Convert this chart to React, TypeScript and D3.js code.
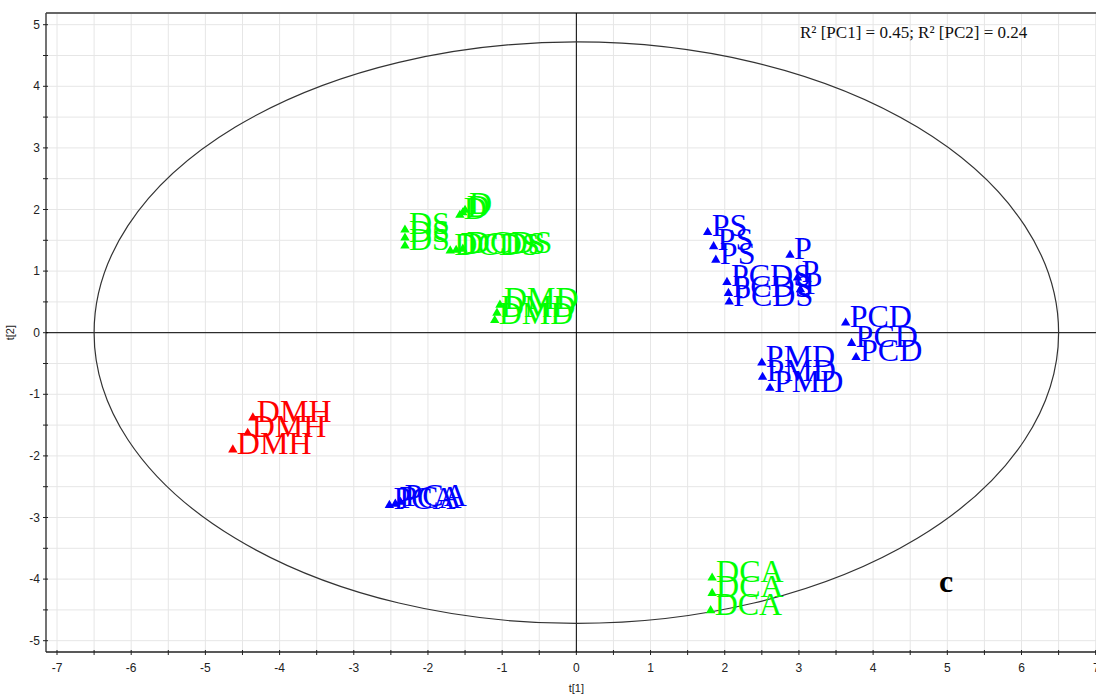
import React, { useEffect, useRef } from 'react';
import * as d3 from 'd3';

// score values: [t1, t2] per sample
const groupNames = ['D', 'DS', 'DCDS', 'DMD', 'DMH', 'DCA', 'P', 'PS', 'PCDS', 'PCD', 'PMD', 'PCA'];
const groupColors = ['#00ff00', '#00ff00', '#00ff00', '#00ff00', '#ff0000', '#00ff00', '#0000ff', '#0000ff', '#0000ff', '#0000ff', '#0000ff', '#0000ff'];

const scoresD = [[-1.57, 1.91], [-1.53, 1.95], [-1.5, 1.99]];
const scoresDS = [[-2.31, 1.67], [-2.31, 1.54], [-2.31, 1.41]];
const scoresDCDS = [[-1.7, 1.33], [-1.62, 1.34], [-1.53, 1.36]];
const scoresDMD = [[-1.1, 0.2], [-1.07, 0.32], [-1.03, 0.45]];
const scoresDMH = [[-4.36, -1.38], [-4.43, -1.63], [-4.63, -1.9]];
const scoresDCA = [[1.83, -3.98], [1.83, -4.23], [1.81, -4.51]];
const scoresP = [[2.88, 1.26], [2.98, 0.89], [3.02, 0.7]];
const scoresPS = [[1.77, 1.63], [1.85, 1.4], [1.88, 1.18]];
const scoresPCDS = [[2.03, 0.82], [2.05, 0.64], [2.06, 0.5]];
const scoresPCD = [[3.63, 0.16], [3.71, -0.17], [3.77, -0.4]];
const scoresPMD = [[2.5, -0.49], [2.51, -0.72], [2.61, -0.9]];
const scoresPCA = [[-2.52, -2.8], [-2.44, -2.78], [-2.37, -2.75]];

const allScores = [scoresD, scoresDS, scoresDCDS, scoresDMD, scoresDMH, scoresDCA, scoresP, scoresPS, scoresPCDS, scoresPCD, scoresPMD, scoresPCA];

// Hotelling T2 ellipse semi-axes
const ellipseT1 = 6.5;
const ellipseT2 = 4.72;

const xTicks = [-7, -6, -5, -4, -3, -2, -1, 0, 1, 2, 3, 4, 5, 6, 7];
const yTicks = [-5, -4, -3, -2, -1, 0, 1, 2, 3, 4, 5];
const r2Text = 'R\u00b2 [PC1] = 0.45; R\u00b2 [PC2] = 0.24';
const panelLetter = 'c';

export default function App() {
    const ref = useRef<SVGSVGElement>(null);

    useEffect(() => {
        const width = 1096, height = 695;
        const frame = { left: 46, top: 13, right: 1107, bottom: 652 };

        const x = d3.scaleLinear().domain([-7, 7]).range([57, 1095.7]);
        const y = d3.scaleLinear().domain([5, -5]).range([24.7, 640.7]);

        const svg = d3.select(ref.current);
        svg.selectAll('*').remove();
        svg.attr('width', width).attr('height', height);

        svg.append('rect').attr('width', width).attr('height', height).attr('fill', '#fff');

        // grid every 0.5
        const gridX = d3.range(-7, 7.01, 0.5);
        const gridY = d3.range(-5, 5.01, 0.5);
        const grid = svg.append('g').attr('stroke', '#e6e6e6').attr('stroke-width', 1);
        grid.selectAll('.gx').data(gridX).enter().append('line')
            .attr('x1', d => x(d)).attr('x2', d => x(d))
            .attr('y1', frame.top).attr('y2', frame.bottom);
        grid.selectAll('.gy').data(gridY).enter().append('line')
            .attr('x1', frame.left).attr('x2', frame.right)
            .attr('y1', d => y(d)).attr('y2', d => y(d));

        // frame
        svg.append('line').attr('x1', frame.left).attr('x2', frame.right)
            .attr('y1', frame.top).attr('y2', frame.top)
            .attr('stroke', '#666').attr('stroke-width', 2);
        svg.append('line').attr('x1', frame.left).attr('x2', frame.left)
            .attr('y1', frame.top).attr('y2', frame.bottom)
            .attr('stroke', '#444').attr('stroke-width', 1.5);
        svg.append('line').attr('x1', frame.left).attr('x2', frame.right)
            .attr('y1', frame.bottom).attr('y2', frame.bottom)
            .attr('stroke', '#222').attr('stroke-width', 1.5);

        // ticks (major + minor at 0.5)
        const ticks = svg.append('g').attr('stroke', '#222').attr('stroke-width', 1);
        ticks.selectAll('.tx').data(gridX).enter().append('line')
            .attr('x1', d => x(d)).attr('x2', d => x(d))
            .attr('y1', frame.bottom - 2).attr('y2', frame.bottom + 3);
        ticks.selectAll('.ty').data(gridY).enter().append('line')
            .attr('x1', frame.left - 3).attr('x2', frame.left + 2)
            .attr('y1', d => y(d)).attr('y2', d => y(d));

        const tickFont = '"Liberation Sans", Arial, sans-serif';
        svg.append('g').selectAll('text').data(xTicks).enter().append('text')
            .attr('x', d => x(d)).attr('y', frame.bottom + 20)
            .attr('text-anchor', d => d === 7 ? 'end' : 'middle')
            .attr('dx', d => d === 7 ? 4 : 0)
            .style('font', `12px ${tickFont}`).attr('fill', '#222')
            .text(d => String(d));
        svg.append('g').selectAll('text').data(yTicks).enter().append('text')
            .attr('x', frame.left - 6).attr('y', d => y(d) + 4)
            .attr('text-anchor', 'end')
            .style('font', `12px ${tickFont}`).attr('fill', '#222')
            .text(d => String(d));

        // axis titles
        svg.append('text').attr('x', x(0)).attr('y', 692)
            .attr('text-anchor', 'middle').style('font', `11px ${tickFont}`).attr('fill', '#222')
            .text('t[1]');
        svg.append('text')
            .attr('transform', `translate(14,${y(0)}) rotate(-90)`)
            .attr('text-anchor', 'middle').style('font', `11px ${tickFont}`).attr('fill', '#222')
            .text('t[2]');

        // zero lines
        svg.append('line').attr('x1', x(0)).attr('x2', x(0))
            .attr('y1', frame.top).attr('y2', frame.bottom).attr('stroke', '#000').attr('stroke-width', 1);
        svg.append('line').attr('x1', frame.left).attr('x2', frame.right)
            .attr('y1', y(0)).attr('y2', y(0)).attr('stroke', '#000').attr('stroke-width', 1);

        // ellipse
        svg.append('ellipse')
            .attr('cx', x(0)).attr('cy', y(0))
            .attr('rx', x(ellipseT1) - x(0)).attr('ry', y(0) - y(ellipseT2))
            .attr('fill', 'none').attr('stroke', '#333').attr('stroke-width', 1.2);

        // points + labels
        const tri = d3.symbol().type(d3.symbolTriangle).size(38);
        const labelFont = '"Liberation Serif", "Times New Roman", serif';
        allScores.forEach((pts, gi) => {
            const g = svg.append('g').attr('fill', groupColors[gi]);
            g.selectAll('path').data(pts).enter().append('path')
                .attr('d', tri)
                .attr('transform', d => `translate(${x(d[0])},${y(d[1])})`);
            g.selectAll('text').data(pts).enter().append('text')
                .attr('x', d => x(d[0]) + 4).attr('y', d => y(d[1]) + 4)
                .style('font', `32px ${labelFont}`)
                .text(groupNames[gi]);
        });

        svg.append('text').attr('x', 800).attr('y', 38)
            .style('font', `17px ${labelFont}`).attr('fill', '#111')
            .text(r2Text);

        svg.append('text').attr('x', 939).attr('y', 592)
            .style('font', `bold 32px ${labelFont}`).attr('fill', '#000')
            .text(panelLetter);
    }, []);

    return <svg ref={ref} style={{ position: 'absolute', left: 0, top: 0 }}></svg>;
}
